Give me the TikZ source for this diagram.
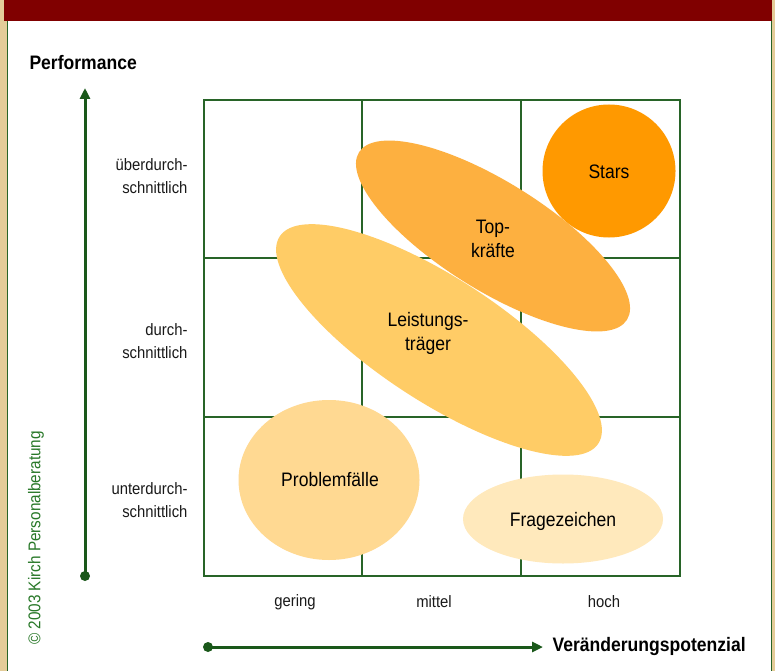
\documentclass[tikz,border=0pt]{standalone}
\usepackage{fontspec}
\setmainfont{Liberation Sans}[FakeStretch=0.9]
\usetikzlibrary{arrows.meta,shapes.geometric}
\definecolor{bandred}{RGB}{128,0,0}
\definecolor{framebeige}{RGB}{228,204,153}
\definecolor{gridgreen}{RGB}{40,100,40}
\definecolor{axisgreen}{RGB}{26,88,26}
\definecolor{copygreen}{RGB}{40,120,40}
\definecolor{starsorange}{RGB}{255,153,0}
\definecolor{toporange}{RGB}{253,176,64}
\definecolor{leistyellow}{RGB}{255,204,102}
\definecolor{problemyellow}{RGB}{255,217,146}
\definecolor{fragecream}{RGB}{255,233,188}
\tikzset{
  gridline/.style={draw=gridgreen, line width=1.3pt},
  axisline/.style={draw=axisgreen, line width=3pt, -{Triangle[length=11pt,width=10pt]}},
  axisdot/.style={circle, fill=axisgreen, inner sep=0pt, minimum size=10pt},
  blob/.style={ellipse, inner sep=0pt},
  bloblabel/.style={font=\fontsize{19.5}{24}\selectfont, align=center, text=black},
  ticklabel/.style={font=\fontsize{16.5}{23}\selectfont, text=black!90},
  axistitle/.style={font=\bfseries\fontsize{19.5}{23}\selectfont, text=black},
}
\begin{document}
\begin{tikzpicture}[x=1pt,y=-1pt]
  % page frame
  \useasboundingbox (0,0) rectangle (775,671);
  \fill[framebeige] (0,0) rectangle (775,671);
  \fill[white] (7,0) rectangle (771,671);
  \draw[gridgreen, line width=1pt] (7,0) -- (7,671);
  \draw[gridgreen, line width=1pt] (771,0) -- (771,671);
  \fill[bandred] (4,0) rectangle (772,21);

  % 3x3 portfolio grid
  \draw[gridline] (204,100) rectangle (680,576);
  \draw[gridline] (362,100) -- (362,576);
  \draw[gridline] (521,100) -- (521,576);
  \draw[gridline] (204,258) -- (680,258);
  \draw[gridline] (204,417) -- (680,417);

  % employee groups
  \node[blob, fill=starsorange, minimum width=133pt, minimum height=133pt] (stars) at (609,171) {};
  \node[blob, fill=toporange, minimum width=316pt, minimum height=108pt, rotate=-32] (top) at (493,236) {};
  \node[blob, fill=leistyellow, minimum width=380pt, minimum height=124pt, rotate=-33] (leist) at (439,340) {};
  \node[blob, fill=problemyellow, minimum width=181pt, minimum height=160pt] (problem) at (329,480) {};
  \node[blob, fill=fragecream, minimum width=200pt, minimum height=89pt] (frage) at (563,519) {};

  \node[bloblabel] (starsL) at (609,172) {Stars};
  \node[bloblabel] (topL) at (493,239) {Top-\\kräfte};
  \node[bloblabel] (leistL) at (428,333) {Leistungs-\\träger};
  \node[bloblabel] (problemL) at (330,480) {Problemfälle};
  \node[bloblabel] (frageL) at (563,521) {Fragezeichen};

  % performance scale
  \node[ticklabel, align=right, anchor=east] (ueber) at (191,176) {überdurch-\\schnittlich};
  \node[ticklabel, align=right, anchor=east] (durch) at (191,341) {durch-\\schnittlich};
  \node[ticklabel, align=right, anchor=east] (unter) at (191,500) {unterdurch-\\schnittlich};

  % potential scale
  \node[ticklabel] (gering) at (295,602) {gering};
  \node[ticklabel] (mittel) at (434,602) {mittel};
  \node[ticklabel] (hoch) at (604,602) {hoch};

  % axes
  \node[axisdot] (yorig) at (85,576) {};
  \coordinate (ytip) at (85,88);
  \draw[axisline] (yorig.center) -- (ytip);
  \node[axistitle, anchor=west] (perf) at (26,63) {Performance};

  \node[axisdot] (xorig) at (208,647) {};
  \coordinate (xtip) at (543,647);
  \draw[axisline] (xorig.center) -- (xtip);
  \node[axistitle, anchor=west] (pot) at (549,646) {Veränderungspotenzial};

  % copyright
  \node[rotate=90, text=copygreen, font=\fontsize{17}{20}\selectfont] (copy) at (36,538) {© 2003 Kirch Personalberatung};
\end{tikzpicture}
\end{document}
